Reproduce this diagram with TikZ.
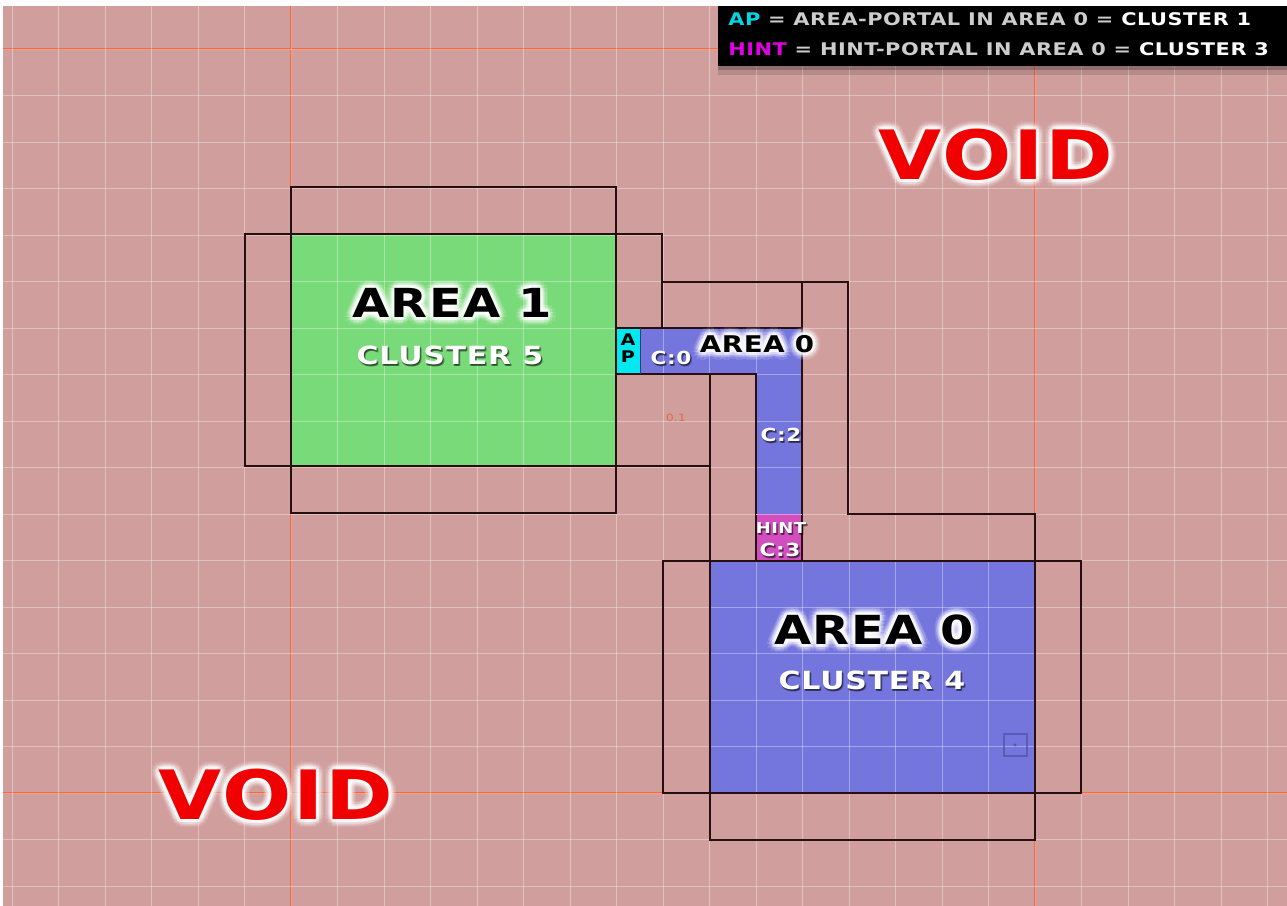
\documentclass[tikz,border=0pt]{standalone}
\usepackage{fontspec}
\newfontfamily\tech[FakeStretch=1.2,LetterSpace=3]{DejaVu Sans}
\usetikzlibrary{calc}
\definecolor{bgpink}{RGB}{208,158,157}
\definecolor{areagreen}{RGB}{120,218,120}
\definecolor{areablue}{RGB}{117,117,222}
\definecolor{apcyan}{RGB}{0,232,240}
\definecolor{hintmag}{RGB}{210,78,190}
\definecolor{majorline}{RGB}{238,108,68}
\definecolor{voidred}{RGB}{240,0,0}
\definecolor{legendgrey}{RGB}{205,205,205}
\definecolor{legcyan}{RGB}{0,215,230}
\definecolor{legmag}{RGB}{225,0,225}
\definecolor{zerotxt}{RGB}{232,100,70}
\definecolor{framecol}{RGB}{40,15,15}
\definecolor{marker}{RGB}{80,80,160}

\tikzset{
  frame/.style={draw=framecol, line width=0.65pt},
  major/.style={draw=majorline, line width=1.2pt},
  minor/.style={draw=white, opacity=0.35, line width=0.5pt},
  bigarea/.style={font=\tech\bfseries\fontsize{20}{22}\selectfont, text=black, inner sep=0pt},
  smallarea/.style={font=\tech\bfseries\fontsize{11.5}{13}\selectfont, text=black, inner sep=0pt},
  clustertxt/.style={font=\tech\bfseries\fontsize{12.5}{14}\selectfont, text=white, inner sep=0pt},
  voidtxt/.style={font=\tech\bfseries\fontsize{34}{36}\selectfont, text=voidred, inner sep=0pt},
  celltxt/.style={font=\tech\bfseries\fontsize{9}{10}\selectfont, text=white, inner sep=0pt},
  hinttxt/.style={font=\tech\bfseries\fontsize{7.5}{8}\selectfont, text=white, inner sep=0pt},
  aptxt/.style={font=\tech\bfseries\fontsize{8}{8.6}\selectfont, text=black, inner sep=0pt, align=center},
  legendtxt/.style={font=\tech\bfseries\fontsize{8.7}{10}\selectfont, text=legendgrey, inner sep=0pt, anchor=west},
}

\newcommand\glowlabel[4]{%
  \foreach \gr/\gop in {4/0.10, 2.8/0.18, 1.6/0.32}{%
    \foreach \ga in {0,30,...,330}{%
      \node[#3, text=white, text opacity=\gop] at ($#2+(\ga:\gr pt)$) {#4};
    }%
  }%
  \node[#3] (#1) at #2 {#4};
}
\newcommand\shadowlabel[4]{%
  \foreach \sx/\sy in {0.5/-0.7, 0.9/-1.1, 0.3/-1.0}{%
    \node[#3, text=black, text opacity=0.3] at ($#2+(\sx pt,\sy pt)$) {#4};
  }%
  \node[#3] (#1) at #2 {#4};
}

\begin{document}
\begin{tikzpicture}[x=0.5pt,y=-0.5pt]
\useasboundingbox (0,0) rectangle (1287,906);
% background
\fill[white] (0,0) rectangle (1287,906);
\fill[bgpink] (3,6) rectangle (1287,906);
% major lines
\draw[major] (291,6) -- (291,906);
\draw[major] (1035,6) -- (1035,906);
\draw[major] (3,49) -- (1287,49);
\draw[major] (3,793) -- (1287,793);
% area fills
\fill[areagreen] (291,234) rectangle (616,466);
\fill[areablue] (710,561) rectangle (1035,793);
\fill[apcyan] (616,328) rectangle (640,374);
\fill[areablue] (640,328) rectangle (802,374);
\fill[areablue] (756,328) rectangle (802,514);
\fill[hintmag] (756,514) rectangle (802,561);
% minor grid
\foreach \k in {-6,...,21}{\draw[minor] ({291+46.5*\k},6) -- ({291+46.5*\k},906);}
\foreach \k in {0,...,18}{\draw[minor] (3,{49+46.5*\k}) -- (1287,{49+46.5*\k});}
% brush frames
\draw[frame] (291,234) -- (291,187) -- (616,187) -- (616,234);
\draw[frame] (291,234) -- (245,234) -- (245,466) -- (291,466);
\draw[frame] (291,466) -- (291,513) -- (616,513) -- (616,466);
\draw[frame] (616,234) -- (662,234) -- (662,328);
\draw[frame] (662,328) -- (662,282) -- (848,282) -- (848,514) -- (1035,514) -- (1035,561);
\draw[frame] (802,282) -- (802,328);
\draw[frame] (616,466) -- (710,466);
\draw[frame] (710,374) -- (710,561);
\draw[frame] (710,561) -- (663,561) -- (663,793) -- (710,793);
\draw[frame] (710,793) -- (710,840) -- (1035,840) -- (1035,793);
\draw[frame] (1035,561) -- (1081,561) -- (1081,793) -- (1035,793);
\draw[frame, line width=0.8pt] (291,234) rectangle (616,466);
\draw[frame, line width=0.8pt] (710,561) rectangle (1035,793);
\draw[frame] (616,328) -- (802,328) -- (802,561) -- (756,561) -- (756,374) -- (616,374);
\draw[draw=areablue!50!black, line width=0.4pt] (640,328) -- (640,374);
\draw[draw=hintmag!60!white, line width=0.5pt] (756,514) -- (802,514);
% marker square
\draw[draw=marker, line width=0.6pt, opacity=0.7] (1004,734) rectangle (1027,756);
\fill[marker, opacity=0.8] (1015,745) circle (1.6);
% labels
\glowlabel{area1}{(452,303)}{bigarea}{AREA 1}
\shadowlabel{cl5}{(450,355)}{clustertxt}{CLUSTER 5}
\glowlabel{area0big}{(874,630)}{bigarea}{AREA 0}
\shadowlabel{cl4}{(872,680)}{clustertxt}{CLUSTER 4}
\glowlabel{voidtop}{(996,155)}{voidtxt}{VOID}
\glowlabel{voidbot}{(276,795)}{voidtxt}{VOID}
\glowlabel{area0small}{(757,344)}{smallarea}{AREA 0}
\shadowlabel{c0}{(671,358)}{celltxt}{C:0}
\node[aptxt] (ap) at (628,348) {A\\P};
\shadowlabel{c2}{(781,435)}{celltxt}{C:2}
\shadowlabel{hint}{(781,528)}{hinttxt}{HINT}
\shadowlabel{c3}{(780,550)}{celltxt}{C:3}
\node[font=\tech\fontsize{5}{6}\selectfont, text=zerotxt, inner sep=0pt] (zero) at (676,418) {0.1};
% legend
\fill[black, opacity=0.3] (718,66) rectangle (1287,70);
\fill[black, opacity=0.12] (718,70) rectangle (1287,75);
\fill[black] (718,6) rectangle (1287,66);
\node[legendtxt] (leg1) at (728,19) {{\color{legcyan}AP} = AREA-PORTAL IN AREA 0 = {\color{white}CLUSTER 1}};
\node[legendtxt] (leg2) at (728,49) {{\color{legmag}HINT} = HINT-PORTAL IN AREA 0 = {\color{white}CLUSTER 3}};
\end{tikzpicture}
\end{document}
